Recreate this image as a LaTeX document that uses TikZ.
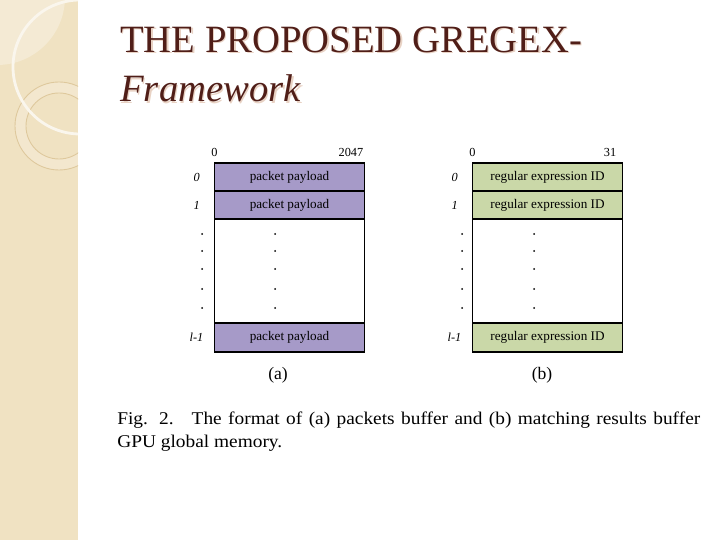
\documentclass[tikz,border=0pt]{standalone}
\usepackage{fontspec}
\setmainfont{Liberation Serif}
\newfontfamily\capfont[FakeStretch=1.08]{Liberation Serif}
\usetikzlibrary{positioning}

\definecolor{strip}{RGB}{240,226,194}
\definecolor{stripline}{RGB}{222,200,156}
\definecolor{titlebrown}{RGB}{80,30,24}
\definecolor{titleshade}{RGB}{232,210,196}
\definecolor{pktfill}{RGB}{166,154,200}
\definecolor{resfill}{RGB}{202,216,168}

\begin{document}
\begin{tikzpicture}[
          x=0.02cm, y=-0.02cm,
          row/.style={draw, line width=0.8pt, outer sep=0pt, inner sep=0pt,
                      minimum width=3cm, minimum height=0.56cm,
                      font=\fontsize{7.5}{9}\selectfont},
          pkt/.style={row, fill=pktfill},
          res/.style={row, fill=resfill},
          gap/.style={row, fill=white, minimum height=2.08cm},
          idx/.style={font=\fontsize{7}{8}\selectfont\itshape},
          bit/.style={font=\fontsize{7}{8}\selectfont},
          sub/.style={font=\fontsize{10}{12}\selectfont},
          titlef/.style={anchor=base west, align=left, inner sep=0pt,
                         font=\fontsize{22}{28.35}\selectfont}
        ]
        \useasboundingbox (0,0) rectangle (720,540);

        % left strip
        \begin{scope}
          \clip (0,0) rectangle (78,540);
          \fill[strip] (0,0) rectangle (78,540);
          \fill[white, opacity=0.3] (-3,-3) circle (68);
          \fill[white, opacity=0.2, even odd rule] (59,126) circle (44) (59,126) circle (33);
          \draw[stripline, line width=0.5pt] (59,126) circle (44);
          \draw[stripline, line width=0.5pt] (59,126) circle (33);
          \draw[white!70!strip, line width=1.6pt] (80,67) circle (67);
        \end{scope}

        % title
        \node[titlef, text=titleshade] (titleshadow) at (121.5,103.5)
              {THE PROPOSED GREGEX-\\\textit{Framework}};
        \node[titlef, text=titlebrown] (title) at (120,102)
              {THE PROPOSED GREGEX-\\\textit{Framework}};

        % (a) packets buffer
        \node[pkt] (a0) at (289.5,177) {packet payload};
        \node[pkt, below=0pt of a0] (a1) {packet payload};
        \node[gap, below=0pt of a1] (agap) {};
        \node[pkt, below=0pt of agap, minimum height=0.58cm] (alast) {packet payload};
        \node[bit, above=0pt of a0.north west] (ahead0) {0};
        \node[bit, anchor=south east, xshift=0.1cm] (ahead1) at (a0.north east) {2047};
        \node[idx, left=0.17cm of a0] (aidx0) {0};
        \node[idx, left=0.17cm of a1] (aidx1) {1};
        \node[idx, left=0.1cm of alast] (aidxl) {l-1};
        \node[sub] (acap) at (278,375) {(a)};

        % (b) matching results buffer
        \node[res] (b0) at (547.5,177) {regular expression ID};
        \node[res, below=0pt of b0] (b1) {regular expression ID};
        \node[gap, below=0pt of b1] (bgap) {};
        \node[res, below=0pt of bgap, minimum height=0.58cm] (blast) {regular expression ID};
        \node[bit, above=0pt of b0.north west] (bhead0) {0};
        \node[bit, anchor=south east] (bhead1) at (b0.north east) {31};
        \node[idx, left=0.17cm of b0] (bidx0) {0};
        \node[idx, left=0.17cm of b1] (bidx1) {1};
        \node[idx, left=0.1cm of blast] (bidxl) {l-1};
        \node[sub] (bcap) at (542,375) {(b)};

        % dots
        \foreach \y in {234,251,269,289,308} {
          \fill (202,\y) circle (1);
          \fill (275,\y) circle (1);
          \fill (462,\y) circle (1);
          \fill (534,\y) circle (1);
        }

        % caption
        \node[anchor=base west, inner sep=0pt, text width=11.66cm, align=justify,
              font=\capfont\fontsize{10.2}{13.6}\selectfont] (caption) at (117,424)
              {Fig. 2.\quad The format of (a) packets buffer and (b) matching results buffer\linebreak
               GPU global memory.};
      \end{tikzpicture}
\end{document}
